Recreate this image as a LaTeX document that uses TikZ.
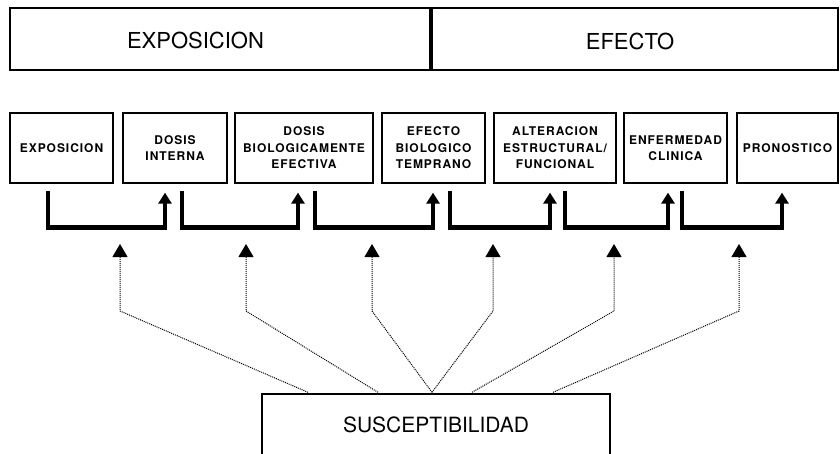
\documentclass[tikz,border=0pt]{standalone}
\usepackage{fontspec}
\setmainfont{TeX Gyre Heros}
\newfontfamily\boxfont[LetterSpace=8]{TeX Gyre Heros}
\usetikzlibrary{arrows.meta}

\begin{document}
\begin{tikzpicture}[x=1pt, y=-1pt,
	frame/.style = {line width=1.4pt},
	big/.style = {inner sep=0pt, font=\fontsize{22}{26}\selectfont},
	stage/.style = {draw, line width=1.3pt, minimum height=70pt, inner sep=0pt, align=center, font=\boxfont\bfseries\fontsize{12}{16.5}\selectfont},
	bracket/.style = {line width=4.5pt, line join=miter, -{Triangle[width=13pt, length=11pt]}},
	dotline/.style = {line width=1pt, dash pattern=on 1pt off 1pt, -{Triangle[width=15pt, length=13pt]}}]
	\clip (0,0) rectangle (840,453);

	\draw [frame] (10,8) rectangle (838,70);
	\draw [line width=4pt] (431,8) -- (431,70);
	\node [big] (expo) at (195.5,40) {EXPOSICION};
	\node [big] (efec) at (630,41) {EFECTO};

	\node [stage, minimum width=103pt] (b1) at (61.5,148) {EXPOSICION};
	\node [stage, minimum width=104pt] (b2) at (175,148) {DOSIS\\INTERNA};
	\node [stage, minimum width=138pt] (b3) at (304,148) {DOSIS\\BIOLOGICAMENTE\\EFECTIVA};
	\node [stage, minimum width=103pt] (b4) at (433.5,148) {EFECTO\\BIOLOGICO\\TEMPRANO};
	\node [stage, minimum width=122pt] (b5) at (555,148) {ALTERACION\\ESTRUCTURAL/\\FUNCIONAL};
	\node [stage, minimum width=103pt] (b6) at (675.5,148) {ENFERMEDAD\\CLINICA};
	\node [stage, minimum width=101pt] (b7) at (787.5,148) {PRONOSTICO};

	\foreach \a/\b/\p/\q in {b1/b2/-13.5/-10, b2/b3/7/-6, b3/b4/11/-0.5, b4/b5/16.5/-5, b5/b6/10/-7.5, b6/b7/6.5/-5.5}
		\draw [bracket] ([shift={(\p,7)}]\a.south) |- ([shift={(\q,44)}]\b.south) -- ([shift={(\q,9)}]\b.south);

	\node [draw, frame, minimum width=348pt, minimum height=62pt, font=\fontsize{21}{25}\selectfont] (s) at (436,425) {SUSCEPTIBILIDAD};

	\foreach \x/\o [count=\i] in {120/-128, 246/-58, 372/-4, 493/-4, 614/36, 739/117} {
		\coordinate (t\i) at (\x,244);
		\draw [dotline] ([shift={(\o,-1)}]s.north) -- (\x,311) -- (t\i);
	}
\end{tikzpicture}
\end{document}
